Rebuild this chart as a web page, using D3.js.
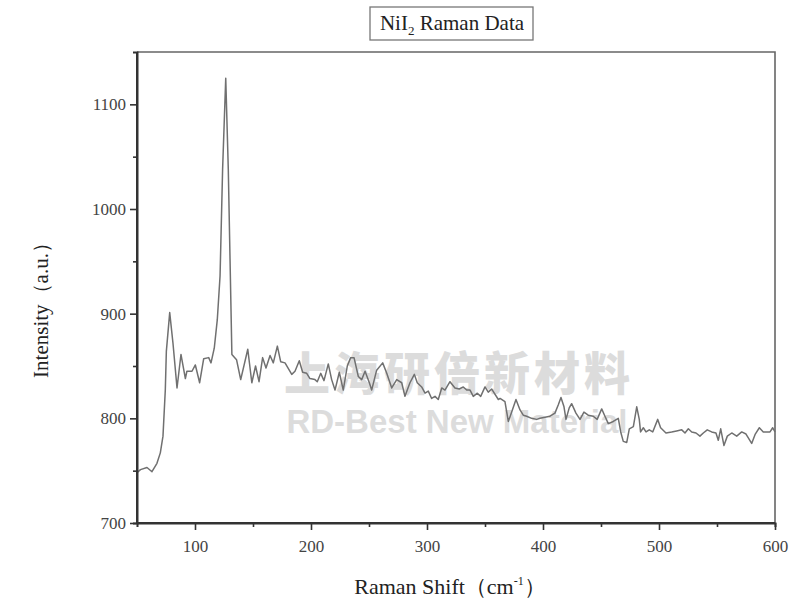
<!DOCTYPE html>
<html><head><meta charset="utf-8">
<script src="https://cdn.jsdelivr.net/npm/d3@7"></script>
<style>body{margin:0;background:#fff}svg{display:block}</style>
</head><body>
<script>
const ramanShift = [50,53,58.6,62.9,67.2,70.1,72.4,74.4,75.3,78.2,81,84.5,87.9,91.7,93,97.4,100.3,104,107.5,111.8,113.8,116.6,119.2,121.6,123.8,126.5,128.7,130.2,131.8,135.8,139.4,145.5,149,152.2,155.2,158.3,161.2,164.7,167.5,171,173.9,177.6,183.4,186.2,189.9,192.8,196.3,199.1,203.4,205.4,208.4,211.2,214.9,217.8,220.7,224.4,227.8,231.3,234.2,237.1,240.8,243.7,246.6,250.3,252.3,256.6,261.8,265.3,269.6,273.9,278.2,281,285.3,289.1,291.6,295.4,298.3,301.1,304,306.9,309.7,312.7,315.5,319.8,324.1,327.8,331.3,334.2,337.1,339.9,343.4,346.3,350,352.8,355.8,361.5,363,367.2,370.1,373,376.7,380.2,383,385.9,390.2,394.6,397.4,401.7,406,410.3,413.2,415.5,418.1,419.8,422.6,424.7,428.4,431.9,435.3,439,443.3,446.7,450.6,453.4,456.3,460.6,464.9,467,469.2,472.2,474.4,477.9,480.8,483,484.1,486.5,488.8,491.6,494.6,498.9,501.4,506,510.9,515.2,519.6,522.4,525.3,528.2,531.9,535.3,538.2,541.6,545.4,549.1,551.1,553.2,556,558.9,562.7,567,571.3,575,579.9,583,586.5,589.9,595.7,598,600];
const intensity = [748,751,753,749,757,767,783,827,864,901,872,829,861,838,845,845,851,834,857,858,853,867,894,936,1038,1125,1038,952,861,856,837,866,834,850,835,858,848,860,853,869,854,853,842,845,855,844,843,838,837,835,843,836,852,837,827,844,827,850,858,858,840,837,845,834,827,846,853,843,829,837,834,821,834,842,834,830,824,826,819,821,818,829,827,835,829,828,830,827,827,821,824,821,830,825,828,818,819,816,797,806,818,808,803,802,800,799,800,801,802,805,813,820,811,799,810,814,805,799,806,803,802,799,809,802,795,797,800,787,778,777,790,792,811,799,787,791,787,789,787,799,791,786,787,788,789,786,790,787,786,783,786,789,787,786,779,790,774,783,786,783,787,785,776,785,791,787,787,791,787];
const xTicks = [100,200,300,400,500,600];
const yTicks = [700,800,900,1000,1100];
const xMinor = [150,250,350,450,550];
const yMinor = [750,850,950,1050];

const W = 800, H = 608;
const m = {l:137, r:775, t:52, b:523};
const svg = d3.select("body").append("svg").attr("width",W).attr("height",H);
const x = d3.scaleLinear().domain([50,600]).range([m.l,m.r]);
const y = d3.scaleLinear().domain([700,1150]).range([m.b,m.t]);
const serif = "'Liberation Serif','Times New Roman',serif";

// watermark
svg.append("text").attr("x",459).attr("y",390).attr("text-anchor","middle")
  .attr("font-family","'Noto Sans CJK SC',sans-serif").attr("font-weight","900")
  .attr("font-size",46).attr("fill","#dcdcdc").attr("letter-spacing",4).text("上海研倍新材料");
svg.append("text").attr("x",457).attr("y",433).attr("text-anchor","middle")
  .attr("font-family","'Liberation Sans',Arial,sans-serif").attr("font-weight","bold")
  .attr("font-size",33).attr("fill","#dcdcdc").text("RD-Best New Material");

// frame top/right
svg.append("path").attr("d",`M${m.l},${m.t}H${m.r}V${m.b}`).attr("fill","none")
  .attr("stroke","#666").attr("stroke-width",1.6);

// line
const line = d3.line().x((d,i)=>x(ramanShift[i])).y(d=>y(d));
svg.append("path").datum(intensity).attr("d",line).attr("fill","none")
  .attr("stroke","#707070").attr("stroke-width",1.5).attr("stroke-linejoin","round");

// axes
const gx = svg.append("g").attr("transform",`translate(0,${m.b})`)
  .call(d3.axisBottom(x).tickValues(xTicks).tickSize(7).tickPadding(10).tickFormat(d3.format("d")));
const gxm = svg.append("g").attr("transform",`translate(0,${m.b})`)
  .call(d3.axisBottom(x).tickValues(xMinor).tickSize(4).tickFormat(""));
const gy = svg.append("g").attr("transform",`translate(${m.l},0)`)
  .call(d3.axisLeft(y).tickValues(yTicks).tickSize(7).tickPadding(4).tickFormat(d3.format("d")));
const gym = svg.append("g").attr("transform",`translate(${m.l},0)`)
  .call(d3.axisLeft(y).tickValues(yMinor).tickSize(4).tickFormat(""));
[gx,gxm,gy,gym].forEach(g=>{
  g.select(".domain").attr("stroke","#333").attr("stroke-width",2);
  g.selectAll(".tick line").attr("stroke","#333").attr("stroke-width",1.6);
  g.selectAll(".tick text").attr("font-family",serif).attr("font-size",17).attr("fill","#444");
});
gx.select(".domain").attr("d",`M${m.l},0H${m.r}`);
gy.select(".domain").attr("d",`M0,${m.t}V${m.b}`);

// axis titles
svg.append("text").attr("transform","translate(48,305) rotate(-90)").attr("text-anchor","middle")
  .attr("font-family",serif).attr("font-size",21).attr("fill","#222").text("Intensity（a.u.）");
const xt = svg.append("text").attr("x",450).attr("y",594).attr("text-anchor","middle")
  .attr("font-family",serif).attr("font-size",22).attr("fill","#222");
xt.append("tspan").text("Raman Shift（cm");
xt.append("tspan").attr("dy",-9).attr("font-size",12).text("-1");
xt.append("tspan").attr("dy",9).text("）");

// title box
svg.append("rect").attr("x",370).attr("y",7).attr("width",163).attr("height",33)
  .attr("fill","none").attr("stroke","#777").attr("stroke-width",1.3);
const tt = svg.append("text").attr("x",452).attr("y",30).attr("text-anchor","middle")
  .attr("font-family",serif).attr("font-size",21).attr("fill","#222");
tt.append("tspan").text("NiI");
tt.append("tspan").attr("dy",5).attr("font-size",13).text("2");
tt.append("tspan").attr("dy",-5).text(" Raman Data");
</script>
</body></html>
